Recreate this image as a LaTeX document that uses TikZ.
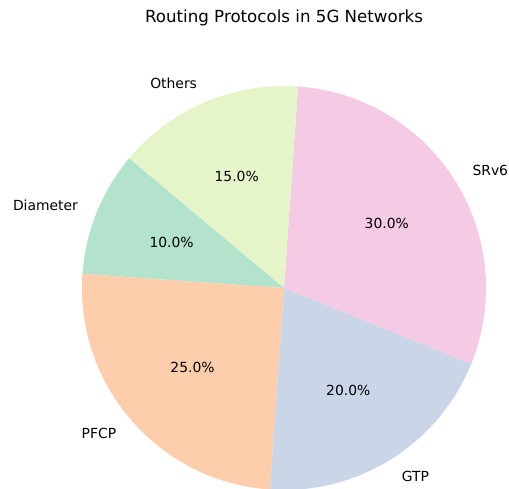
\documentclass[tikz,border=0pt]{standalone}
\usepackage{fontspec}
\setmainfont{DejaVu Sans}
\usetikzlibrary{calc}
\definecolor{cDia}{HTML}{B3E2CD}
\definecolor{cPfcp}{HTML}{FDCDAC}
\definecolor{cGtp}{HTML}{CBD5E8}
\definecolor{cSrv}{HTML}{F4CAE4}
\definecolor{cOth}{HTML}{E6F5C9}
\begin{document}
\begin{tikzpicture}[x=0.72pt,y=0.72pt,
  lbl/.style={font=\fontsize{10}{12}\selectfont,inner sep=0pt},
  pct/.style={font=\fontsize{10}{12}\selectfont,inner sep=0pt}]
\useasboundingbox (0,0) rectangle (509,488);
\clip (0,0) rectangle (509,488);
\coordinate (c) at (284,200);
\def\R{202}
\fill[cDia] (c) -- ++(140:\R) arc[start angle=140,end angle=176,radius=\R] -- cycle;
\fill[cPfcp] (c) -- ++(176:\R) arc[start angle=176,end angle=266,radius=\R] -- cycle;
\fill[cGtp] (c) -- ++(266:\R) arc[start angle=266,end angle=338,radius=\R] -- cycle;
\fill[cSrv] (c) -- ++(-22:\R) arc[start angle=-22,end angle=86,radius=\R] -- cycle;
\fill[cOth] (c) -- ++(86:\R) arc[start angle=86,end angle=140,radius=\R] -- cycle;
% labels
\node[lbl,anchor=east] (lDia) at ($(c)+(158:222)$) {Diameter};
\node[lbl,anchor=east] (lPfcp) at ($(c)+(221:222)$) {PFCP};
\node[lbl,anchor=west] (lGtp) at ($(c)+(302:222)$) {GTP};
\node[lbl,anchor=west] (lSrv) at ($(c)+(32:222)$) {SRv6};
\node[lbl,anchor=east] (lOth) at ($(c)+(113:222)$) {Others};
% percentages
\node[pct] (pDia) at ($(c)+(158:121.2)$) {10.0\%};
\node[pct] (pPfcp) at ($(c)+(221:121.2)$) {25.0\%};
\node[pct] (pGtp) at ($(c)+(302:121.2)$) {20.0\%};
\node[pct] (pSrv) at ($(c)+(32:121.2)$) {30.0\%};
\node[pct] (pOth) at ($(c)+(113:121.2)$) {15.0\%};
\node[font=\fontsize{12}{14}\selectfont,inner sep=0pt] (title) at (284,470) {Routing Protocols in 5G Networks};
\end{tikzpicture}
\end{document}
